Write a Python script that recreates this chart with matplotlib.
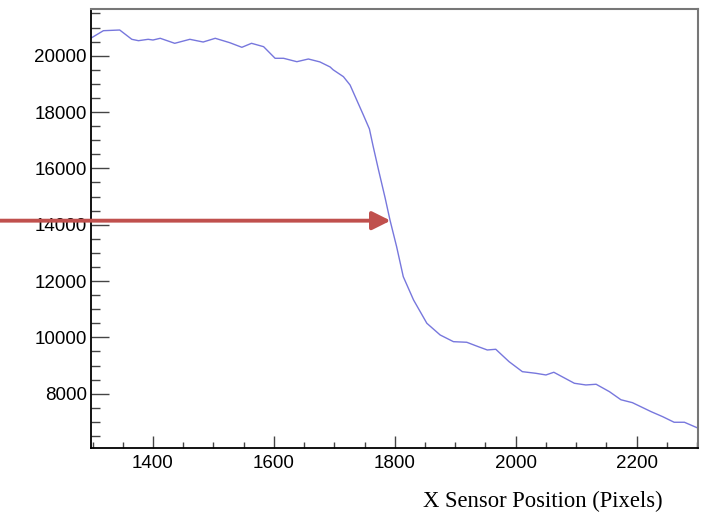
import numpy as np
import matplotlib.pyplot as plt
from matplotlib.ticker import MultipleLocator

# points
x_pos = [1297, 1318, 1345, 1365, 1376, 1392, 1400, 1412, 1436, 1461, 1483, 1503,
         1527, 1547, 1563, 1583, 1602, 1616, 1638, 1657, 1676, 1693, 1698, 1715,
         1726, 1737, 1748, 1758, 1764, 1773, 1784, 1792, 1803, 1814, 1831,
         1853, 1875, 1897, 1919, 1938, 1953, 1967, 1989, 2011, 2033, 2050, 2063,
         2097, 2116, 2133, 2155, 2174, 2193, 2224, 2243, 2262, 2279, 2302]
signal = [20618, 20888, 20912, 20582, 20533, 20582, 20557, 20618, 20440, 20582, 20486, 20618,
          20462, 20298, 20440, 20320, 19908, 19908, 19787, 19883, 19780, 19600, 19500, 19255,
          18960, 18427, 17895, 17400, 16800, 15950, 14950, 14167, 13220, 12155, 11328,
          10500, 10085, 9847, 9826, 9670, 9552, 9577, 9137, 8782, 8725, 8665, 8761,
          8370, 8310, 8335, 8072, 7785, 7682, 7362, 7185, 6986, 6986, 6773]

arrow_tip = (1793, 14143)

fig = plt.figure(figsize=(7.07, 5.12), dpi=100)
ax = fig.add_axes([91 / 707, 64 / 512, 607 / 707, 439 / 512])

ax.plot(x_pos, signal, color="#7777dd", lw=1.0)

ax.set_xlim(1297.5, 2301.5)
ax.set_ylim(6072, 21658)

ax.xaxis.set_major_locator(MultipleLocator(200))
ax.xaxis.set_minor_locator(MultipleLocator(50))
ax.yaxis.set_major_locator(MultipleLocator(2000))
ax.yaxis.set_minor_locator(MultipleLocator(500))

ax.tick_params(axis="x", which="major", direction="in", length=8.6, width=1.0,
               color="#444444", pad=5, labelsize=13.5)
ax.tick_params(axis="x", which="minor", direction="in", length=4.3, width=1.0,
               color="#444444")
ax.tick_params(axis="y", which="major", direction="in", length=13, width=1.0,
               color="#444444", pad=3, labelsize=13.5)
ax.tick_params(axis="y", which="minor", direction="in", length=6.5, width=1.0,
               color="#444444")
for lab in ax.get_xticklabels() + ax.get_yticklabels():
    lab.set_fontfamily("Liberation Sans")

for side in ["left", "bottom"]:
    ax.spines[side].set_color("black")
    ax.spines[side].set_linewidth(1.3)
for side in ["top", "right"]:
    ax.spines[side].set_color("#777777")
    ax.spines[side].set_linewidth(1.5)

ax.annotate("", xy=arrow_tip, xycoords="data",
            xytext=(0, arrow_tip[1]), textcoords=("figure fraction", "data"),
            arrowprops=dict(arrowstyle="-|>,head_length=1.1,head_width=0.55",
                            color="#c0504d", lw=2.8, shrinkA=0, shrinkB=0),
            annotation_clip=False)

fig.text(543 / 707, 1 - 501 / 512, "X Sensor Position (Pixels)",
         family="Liberation Serif", fontsize=16.3, ha="center", va="center")

fig.savefig("out.png", dpi=100)
